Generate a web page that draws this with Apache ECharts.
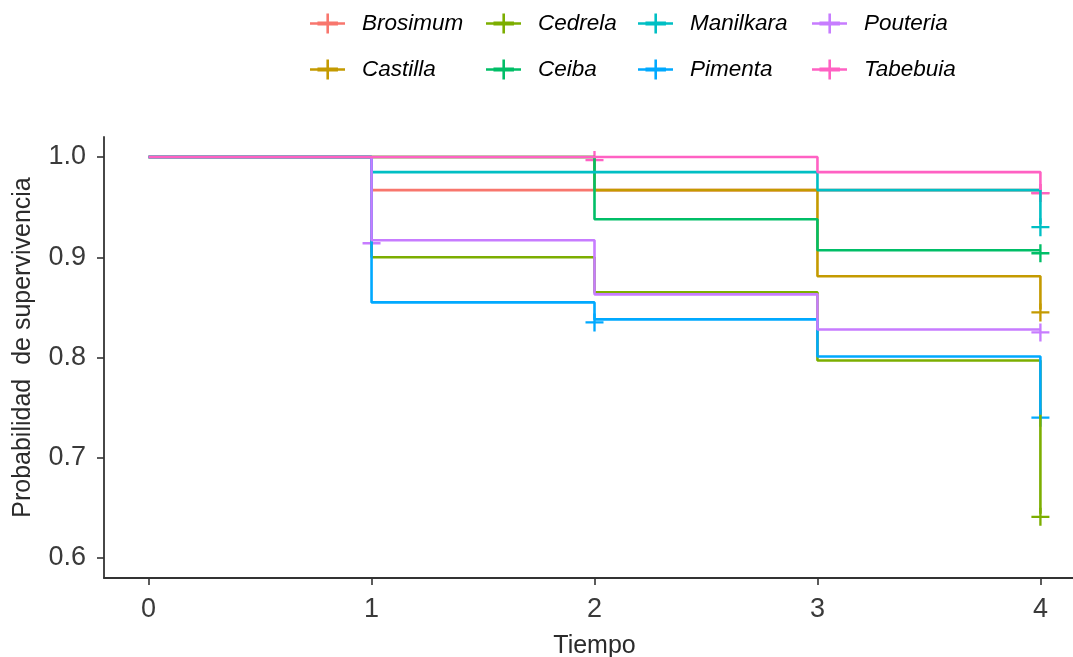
<!DOCTYPE html>
<html>
<head>
<meta charset="utf-8">
<script src="https://cdn.jsdelivr.net/npm/echarts@6/dist/echarts.min.js"></script>
<style>
  html, body { margin: 0; padding: 0; background: #fff; }
  #chart { width: 1073px; height: 657px; }
</style>
</head>
<body>
<div id="chart"></div>
<script>
// Kaplan–Meier survival by genus, yearly census
const times = [0, 1, 2, 3, 4];
const species = ['Brosimum', 'Castilla', 'Cedrela', 'Ceiba', 'Manilkara', 'Pimenta', 'Pouteria', 'Tabebuia'];
const colors = ['#F8766D', '#C49A00', '#7CAE00', '#00BE67', '#00BFC4', '#00A9FF', '#C77CFF', '#FF61C3'];

// survival estimate after each census time
const survBrosimum  = [1, 0.967, 0.967, 0.967, 0.967];
const survCastilla  = [1, 1.000, 0.967, 0.881, 0.848];
const survCedrela   = [1, 0.900, 0.865, 0.797, 0.644];
const survCeiba     = [1, 1.000, 0.938, 0.907, 0.907];
const survManilkara = [1, 0.985, 0.985, 0.967, 0.933];
const survPimenta   = [1, 0.855, 0.838, 0.801, 0.743];
const survPouteria  = [1, 0.917, 0.863, 0.828, 0.828];
const survTabebuia  = [1, 1.000, 1.000, 0.985, 0.967];

// censoring times per genus
const censBrosimum  = [4];
const censCastilla  = [4];
const censCedrela   = [4];
const censCeiba     = [4];
const censManilkara = [4];
const censPimenta   = [2, 4];
const censPouteria  = [1, 4];
const censTabebuia  = [2, 4];

const xTicks = [0, 1, 2, 3, 4];
const yTicks = [0.6, 0.7, 0.8, 0.9, 1.0];

const surv = [survBrosimum, survCastilla, survCedrela, survCeiba, survManilkara, survPimenta, survPouteria, survTabebuia];
const cens = [censBrosimum, censCastilla, censCedrela, censCeiba, censManilkara, censPimenta, censPouteria, censTabebuia];

const FONT = '"Liberation Sans", Arial, sans-serif';
const crossPath = 'path://M8.7,0h2.6v8.7h8.7v2.6h-8.7v8.7h-2.6v-8.7h-8.7v-2.6h8.7z';
// key glyph: step line segment with a censor cross on top
const legendIcon = 'path://M0,8.7h7.5v-0.6h9v-8.1h2.6v8.1h9v0.6h7.1v2.6h-7.1v0.6h-9v8.1h-2.6v-8.1h-9v-0.6h-7.5z';

const lineSeries = species.map((name, i) => ({
  name,
  type: 'line',
  step: 'end',
  showSymbol: false,
  symbol: 'none',
  color: colors[i],
  lineStyle: { width: 2.6, color: colors[i] },
  data: times.map((t, k) => [t, surv[i][k]])
}));

const censorSeries = species.map((name, i) => ({
  name,
  type: 'scatter',
  symbol: crossPath,
  symbolSize: 18,
  symbolOffset: [0, 3],
  color: colors[i],
  itemStyle: { color: colors[i], opacity: 1 },
  data: cens[i].map(t => [t, surv[i][times.indexOf(t)]])
}));

// legend in four columns of two rows
const legendCols = [
  { left: 310, data: ['Brosimum', 'Castilla'] },
  { left: 486, data: ['Cedrela', 'Ceiba'] },
  { left: 638, data: ['Manilkara', 'Pimenta'] },
  { left: 812, data: ['Pouteria', 'Tabebuia'] }
];
const legends = legendCols.map(c => ({
  left: c.left,
  top: 12,
  orient: 'vertical',
  itemWidth: 35,
  itemHeight: 20,
  itemGap: 23,
  padding: 0,
  icon: legendIcon,
  selectedMode: false,
  data: c.data,
  textStyle: {
    fontFamily: FONT,
    fontStyle: 'italic',
    fontSize: 22.5,
    color: '#000',
    padding: [0, 0, 0, 12]
  }
}));

const chart = echarts.init(document.getElementById('chart'), null, { renderer: 'canvas' });
chart.setOption({
  animation: false,
  backgroundColor: '#fff',
  legend: legends,
  grid: { left: 104, top: 137, width: 981, height: 441, outerBoundsMode: 'none', containLabel: false },
  xAxis: {
    type: 'value',
    min: -0.2,
    max: 4.2,
    name: 'Tiempo',
    nameLocation: 'middle',
    nameGap: 56,
    nameTextStyle: { fontFamily: FONT, fontSize: 25, color: '#2b2b2b' },
    axisLine: { onZero: false, lineStyle: { color: '#333', width: 1.8 } },
    axisTick: { show: true, length: 7, customValues: xTicks, lineStyle: { color: '#333', width: 1.6 } },
    axisLabel: { customValues: xTicks, margin: 18, fontFamily: FONT, fontSize: 27, color: '#3a3a3a', formatter: v => String(v) },
    splitLine: { show: false }
  },
  yAxis: {
    type: 'value',
    min: 0.58,
    max: 1.02,
    name: 'Probabilidad  de supervivencia',
    nameLocation: 'middle',
    nameGap: 68,
    nameRotate: 90,
    nameTextStyle: { fontFamily: FONT, fontSize: 25, color: '#2b2b2b', padding: [0, 0, 0, 20] },
    axisLine: { show: true, onZero: false, lineStyle: { color: '#333', width: 1.8 } },
    axisTick: { show: true, length: 7, customValues: yTicks, lineStyle: { color: '#333', width: 1.6 } },
    axisLabel: { customValues: yTicks, margin: 18, fontFamily: FONT, fontSize: 27, color: '#3a3a3a', formatter: v => v.toFixed(1) },
    splitLine: { show: false }
  },
  series: lineSeries.concat(censorSeries)
});
</script>
</body>
</html>
